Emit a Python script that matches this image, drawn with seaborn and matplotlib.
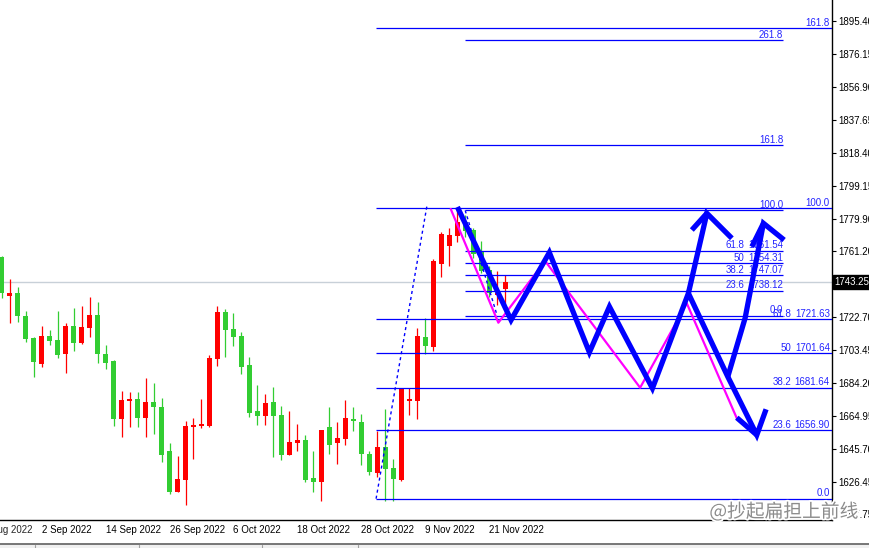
import matplotlib
matplotlib.use("Agg")
import matplotlib.pyplot as plt
import matplotlib.patheffects as pe
from matplotlib.patches import Rectangle
from matplotlib.lines import Line2D
import numpy as np
import pandas as pd
import seaborn as sns

# daily gold candles, 23 Aug - 23 Nov 2022
opens = [1757.98, 1735.25, 1736.82, 1723.41, 1710.59, 1695.60, 1711.75, 1709.42, 1701.43, 1717.58,
         1707.67, 1716.58, 1724.00, 1701.26, 1697.18, 1663.54, 1674.03, 1675.02, 1664.12, 1673.27,
         1670.36, 1644.71, 1620.98, 1627.99, 1658.87, 1659.28, 1659.28, 1698.52, 1725.92, 1715.83,
         1711.75, 1694.84, 1668.03, 1665.29, 1673.27, 1665.87, 1642.55, 1649.21, 1651.12, 1628.97,
         1626.81, 1658.70, 1649.21, 1651.88, 1663.36, 1661.62, 1642.96, 1632.05, 1647.04, 1634.62,
         1627.80, 1674.03, 1674.03, 1711.17, 1705.52, 1753.90, 1764.40, 1770.23, 1778.39, 1773.55,
         1760.90, 1750.23, 1735.66, 1739.15]
highs = [1758.39, 1744.98, 1740.32, 1726.33, 1710.99, 1717.58, 1715.25, 1726.33, 1719.33, 1728.08,
         1729.24, 1734.49, 1731.57, 1706.50, 1697.76, 1679.69, 1679.10, 1679.10, 1687.27, 1684.35,
         1675.61, 1649.55, 1641.97, 1662.20, 1664.12, 1675.20, 1700.68, 1729.42, 1727.49, 1725.34,
         1714.08, 1699.68, 1683.36, 1678.12, 1682.19, 1671.12, 1668.03, 1660.62, 1654.04, 1644.71,
         1656.95, 1670.53, 1661.62, 1674.44, 1670.36, 1666.28, 1644.71, 1656.37, 1669.19, 1640.04,
         1681.44, 1681.61, 1716.42, 1722.25, 1756.47, 1772.56, 1774.89, 1785.79, 1782.30, 1774.54,
         1767.14, 1752.56, 1749.65, 1747.32]
lows = [1733.91, 1719.50, 1720.09, 1708.43, 1688.03, 1693.85, 1706.68, 1699.10, 1690.36, 1703.18,
        1707.26, 1711.34, 1696.18, 1692.69, 1659.45, 1653.04, 1658.87, 1658.87, 1653.04, 1654.79,
        1638.47, 1619.81, 1620.98, 1613.40, 1640.22, 1658.29, 1658.87, 1694.44, 1699.68, 1706.10,
        1689.77, 1664.70, 1660.04, 1660.04, 1641.38, 1639.29, 1642.55, 1644.87, 1626.81, 1620.98,
        1615.73, 1643.13, 1637.30, 1648.38, 1656.55, 1636.72, 1630.89, 1629.72, 1615.73, 1615.73,
        1627.22, 1665.70, 1663.54, 1701.43, 1703.18, 1746.32, 1752.74, 1766.73, 1769.64, 1757.40,
        1748.31, 1734.49, 1729.83, 1729.83]
closes = [1737.00, 1736.82, 1723.59, 1710.18, 1696.77, 1711.75, 1709.01, 1700.85, 1717.58, 1707.84,
          1716.99, 1724.00, 1701.43, 1696.18, 1663.54, 1674.44, 1675.02, 1664.12, 1673.27, 1670.53,
          1642.55, 1620.98, 1628.40, 1659.28, 1660.04, 1660.62, 1699.10, 1725.92, 1715.42, 1711.34,
          1693.85, 1667.04, 1665.29, 1672.69, 1665.29, 1642.55, 1649.95, 1651.12, 1627.80, 1626.81,
          1656.95, 1648.38, 1652.29, 1663.95, 1662.37, 1643.13, 1632.64, 1647.04, 1634.03, 1628.56,
          1680.85, 1675.02, 1711.75, 1706.10, 1755.48, 1771.04, 1770.63, 1778.04, 1773.14, 1759.56,
          1749.65, 1737.00, 1736.82, 1743.25]

date_ticks = [-3, 5, 13, 21, 29, 37, 45, 53, 61]
date_labels = ["23 Aug 2022", "2 Sep 2022", "14 Sep 2022", "26 Sep 2022", "6 Oct 2022",
               "18 Oct 2022", "28 Oct 2022", "9 Nov 2022", "21 Nov 2022"]

price_ticks = [1895.40, 1876.15, 1856.90, 1837.65, 1818.40, 1799.15, 1779.90, 1761.20,
               1722.70, 1703.45, 1684.20, 1664.95, 1645.70, 1626.45, 1607.75]
price_labels = ["1895.40", "1876.15", "1856.90", "1837.65", "1818.40", "1799.15", "1779.90", "1761.20",
                "1722.70", "1703.45", "1684.20", "1664.95", "1645.70", "1626.45", "1607.75"]
bid = 1743.25

# big fibo: Nov 3 low -> Nov 15 high (ray to the right edge)
fib1_anchor_x = [46.85, 53.2]
fib1_anchor_y = [1616.91, 1787.3]
fib1_start = 46.9
fib1_prices = [1616.91, 1656.90, 1681.64, 1701.64, 1721.63, 1786.36, 1891.08]
fib1_levels = ["0.0", "23.6", "38.2", "50", "61.8", "100.0", "161.8"]
fib1_values = ["", "1656.90", "1681.64", "1701.64", "1721.63", "", ""]

# small fibo: Nov 15 high -> Nov 21 low
fib2_anchor_x = [58.0, 62.0]
fib2_anchor_y = [1784.95, 1723.65]
fib2_end = 97.8
fib2_prices = [1723.65, 1738.12, 1747.07, 1754.31, 1761.54, 1784.95, 1822.83, 1884.13]
fib2_levels = ["0.0", "23.6", "38.2", "50", "61.8", "100.0", "161.8", "261.8"]
fib2_values = ["", "1738.12", "1747.07", "1754.31", "1761.54", "", "", ""]

# hand-drawn scenario paths (bar index, price)
blue_seg = [0] * 10 + [1] * 2 + [2] * 3 + [3] * 2 + [4] * 4 + [5] * 2
blue_x = [57.02, 63.74, 68.53, 73.54, 76.05, 81.43, 85.93, 90.86, 94.49, 95.65,
          91.99, 94.49,
          85.93, 88.24, 91.37,
          86.36, 88.24,
          90.86, 93.03, 95.32, 97.91,
          93.87, 95.32]
blue_y = [1786.96, 1721.08, 1760.43, 1702.25, 1728.84, 1681.27, 1736.65, 1688.03, 1654.05, 1669.03,
          1664.12, 1654.05,
          1736.65, 1783.29, 1768.71,
          1773.55, 1783.29,
          1688.03, 1722.25, 1777.46, 1767.73,
          1763.82, 1777.46]
magenta_x = [56.19, 62.15, 68.0, 79.89, 85.73, 91.99]
magenta_y = [1785.79, 1719.50, 1755.48, 1681.61, 1730.81, 1663.77]

sns.set_style("white")
plt.rcParams["font.family"] = ["Liberation Sans", "DejaVu Sans"]

fig = plt.figure(figsize=(8.69, 5.48), dpi=100)
ax = fig.add_axes([0, 28 / 548, 832 / 869, 520 / 548])
ax.set_xlim(-0.213, 103.9)
ax.set_ylim(1604.48, 1907.64)

# bid line
ax.axhline(bid, color="#c8d0d8", lw=1, zorder=1)

# candles (red = up, green = down)
o = np.array(opens)
c = np.array(closes)
xs = np.arange(len(opens))
cols = np.where(c > o, "#ff0000", "#32cd32")
ax.vlines(xs, lows, highs, colors=cols, lw=0.9, zorder=2)
ax.bar(xs, np.maximum(np.abs(c - o), 0.8), bottom=np.minimum(o, c), width=0.63,
       color=cols, linewidth=0, zorder=3)

fib_col = "#0000ff"
txt_col = "#2424ff"

# fibo 1
ax.hlines(fib1_prices, fib1_start, 103.9, colors=fib_col, lw=0.9, zorder=4)
ax.plot(fib1_anchor_x, fib1_anchor_y, color=fib_col, lw=1, ls=(0, (2.2, 2.2)), zorder=4)
for p, lv, val in zip(fib1_prices, fib1_levels, fib1_values):
    if val:
        ax.annotate(val, xy=(1, p), xycoords=("axes fraction", "data"), xytext=(-1.5, 0.3),
                    textcoords="offset points", ha="right", va="bottom", fontsize=7, color=txt_col)
        ax.annotate(lv, xy=(1, p), xycoords=("axes fraction", "data"), xytext=(-29.5, 0.3),
                    textcoords="offset points", ha="right", va="bottom", fontsize=7, color=txt_col)
    else:
        ax.annotate(lv, xy=(1, p), xycoords=("axes fraction", "data"), xytext=(-1.5, 0.3),
                    textcoords="offset points", ha="right", va="bottom", fontsize=7, color=txt_col)

# fibo 2
ax.hlines(fib2_prices, fib2_anchor_x[0], fib2_end, colors=fib_col, lw=0.9, zorder=4)
ax.plot(fib2_anchor_x, fib2_anchor_y, color=fib_col, lw=1, ls=(0, (2.2, 2.2)), zorder=4)
for p, lv, val in zip(fib2_prices, fib2_levels, fib2_values):
    if val:
        ax.annotate(val, xy=(fib2_end, p), xytext=(0, 0.3), textcoords="offset points",
                    ha="right", va="bottom", fontsize=7, color=txt_col)
        ax.annotate(lv, xy=(fib2_end, p), xytext=(-28, 0.3), textcoords="offset points",
                    ha="right", va="bottom", fontsize=7, color=txt_col)
    else:
        ax.annotate(lv, xy=(fib2_end, p), xytext=(0, 0.3), textcoords="offset points",
                    ha="right", va="bottom", fontsize=7, color=txt_col)

# scenario lines
mag = pd.DataFrame({"x": magenta_x, "y": magenta_y})
sns.lineplot(data=mag, x="x", y="y", sort=False, estimator=None, color="#ff00ff",
             lw=1.6, ax=ax, zorder=5)
blue = pd.DataFrame({"x": blue_x, "y": blue_y, "seg": blue_seg})
sns.lineplot(data=blue, x="x", y="y", units="seg", sort=False, estimator=None,
             color="#0000ff", lw=3.8, ax=ax, zorder=6, solid_joinstyle="miter",
             solid_capstyle="butt")
ax.set_xlabel("")
ax.set_ylabel("")

# axes
for s in ["left", "top"]:
    ax.spines[s].set_visible(False)
for s in ["right", "bottom"]:
    ax.spines[s].set_color("black")
    ax.spines[s].set_linewidth(1)
ax.yaxis.tick_right()
ax.set_yticks(price_ticks, price_labels)
ax.set_xticks(date_ticks[1:], date_labels[1:], ha="left")
ax.tick_params(axis="y", length=3, width=0.8, pad=1.5, labelsize=7, colors="black")
ax.tick_params(axis="x", length=3, width=0.8, pad=0.5, labelsize=7, colors="black")
ax.annotate(date_labels[0], xy=(date_ticks[0], 0), xycoords=("data", "axes fraction"),
            xytext=(0, -3.5), textcoords="offset points", ha="left", va="top", fontsize=7,
            annotation_clip=False)

# bid price box
ax.annotate(f"{bid:.2f}", xy=(1, bid), xycoords=("axes fraction", "data"), xytext=(2, 0),
            textcoords="offset points", ha="left", va="center", fontsize=7, color="white",
            bbox=dict(boxstyle="square,pad=0.2", fc="black", ec="black"), annotation_clip=False)

# bottom status strip
fig.add_artist(Line2D([0, 1], [4.5 / 548, 4.5 / 548], color="#606060", lw=1.2))
fig.add_artist(Rectangle((0, 0), 1, 4 / 548, color="#f0f0f0", lw=0))
for sx in [35, 139, 262, 358]:
    fig.add_artist(Line2D([sx / 869, sx / 869], [0, 3 / 548], color="#a0a0a0", lw=0.8))

# watermark
fig.text(0.902, 0.066, "@抄起扁担上前线", family=["Noto Sans CJK SC", "DejaVu Sans"],
         fontsize=13.5, color="#8c8c8c", ha="center", va="center",
         path_effects=[pe.withStroke(linewidth=2.5, foreground="white")])

fig.savefig("out.png", dpi=100)
